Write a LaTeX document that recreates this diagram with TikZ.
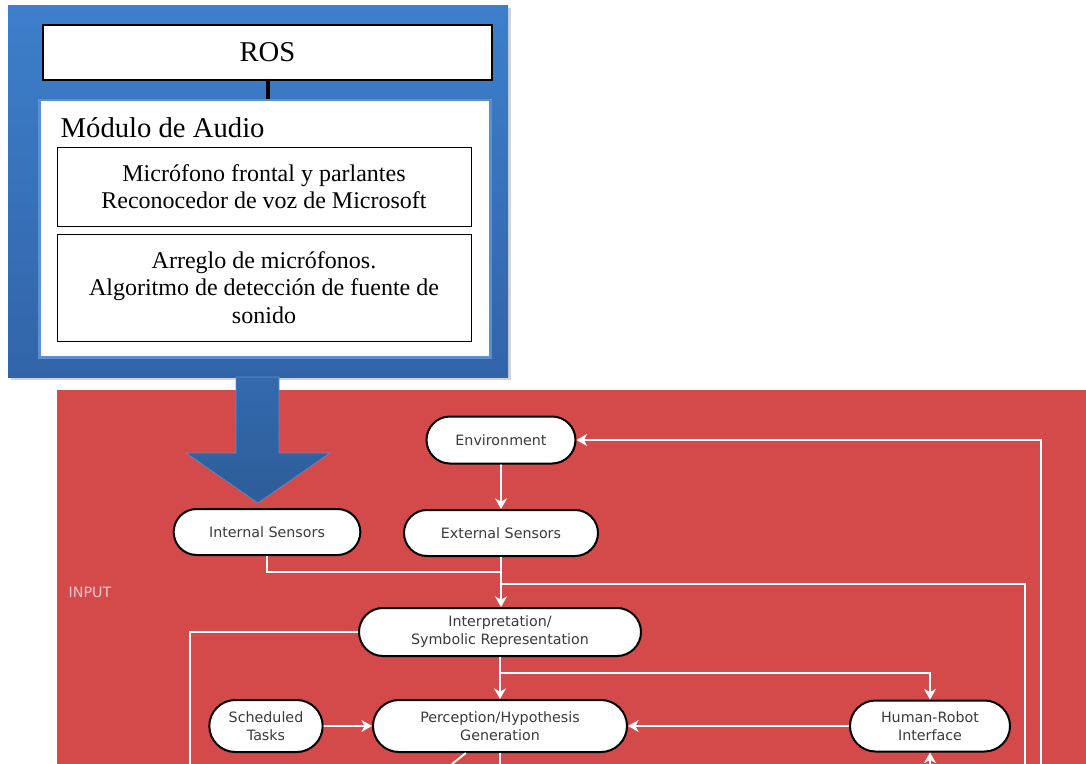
\documentclass[tikz,border=0pt]{standalone}
\usepackage{fontspec}
\setmainfont{Liberation Serif}
\newfontfamily\vera{DejaVu Sans}
\usetikzlibrary{arrows.meta,shapes.misc,shadows}
\definecolor{panelred}{HTML}{D44A4A}
\definecolor{frametop}{HTML}{3D7FCB}
\definecolor{framebot}{HTML}{3264A8}
\definecolor{rimblue}{HTML}{5A8FD2}
\definecolor{arrowtop}{HTML}{3569AD}
\definecolor{arrowbot}{HTML}{2D5C99}
\definecolor{inkgray}{HTML}{3A3A3A}
\definecolor{pinktext}{HTML}{F5C6C6}

\begin{document}
\begin{tikzpicture}[x=0.75pt,y=-0.75pt,>={Stealth[length=8pt,width=9pt,inset=2.5pt]},
  pill/.style={rounded rectangle,draw=black,line width=1.5pt,fill=white,text=inkgray,
    font=\vera\fontsize{10.7}{13.5}\selectfont,align=center,inner sep=0pt},
  flow/.style={draw=white,line width=1.4pt},
  txtbox/.style={draw=black,line width=0.6pt,fill=white,align=center,inner sep=0pt,
    font=\fontsize{18}{20.5}\selectfont}]
 \useasboundingbox (0,0) rectangle (1086,764);
 % audio module (ROS)
 \path[top color=frametop,bottom color=framebot,drop shadow={opacity=.35,shadow xshift=2pt,shadow yshift=-2pt}]
   (8,5) rectangle (508,377);
 \node[draw=black,line width=2.2pt,fill=white,minimum width=336.75pt,minimum height=41.25pt,
   font=\fontsize{21.5}{24}\selectfont] (ros) at (267.5,52.5) {ROS};
 \node[draw=rimblue,line width=2pt,fill=white,minimum width=338pt,minimum height=193pt] (panel) at (265,228.5) {};
 \draw[black,line width=3pt] (ros.south) -- (ros.south |- panel.north);
 \node[anchor=base west,font=\fontsize{21.5}{24}\selectfont] (title) at (56,137) {Módulo de Audio};
 \node[txtbox,minimum width=310.5pt,minimum height=59.25pt] (mic) at (264,186.5)
   {Micrófono frontal y parlantes\\Reconocedor de voz de Microsoft};
 \node[txtbox,minimum width=310.5pt,minimum height=80.25pt] (arr) at (264,287.5)
   {Arreglo de micrófonos.\\Algoritmo de detección de fuente de\\sonido};
 % architecture
 \fill[panelred] (57,390) rectangle (1086,764);
 \node[font=\vera\fontsize{10.7}{13}\selectfont,text=pinktext] (input) at (90,592) {INPUT};
 \node[pill,minimum width=111.75pt,minimum height=35.25pt] (env) at (501,440) {Environment};
 \node[pill,minimum width=140pt,minimum height=34.5pt] (int) at (267,532) {Internal Sensors};
 \node[pill,minimum width=145.5pt,minimum height=34.5pt] (ext) at (501,533) {External Sensors};
 \node[pill,minimum width=211.5pt,minimum height=36pt] (interp) at (500,632) {Interpretation/\\Symbolic Representation};
 \node[pill,minimum width=85pt,minimum height=39pt] (sched) at (266,726) {Scheduled\\Tasks};
 \node[pill,minimum width=190.5pt,minimum height=39pt] (perc) at (500,726) {Perception/Hypothesis\\Generation};
 \node[pill,minimum width=120pt,minimum height=38.25pt] (hri) at (930,726) {Human-Robot\\Interface};
 \coordinate (rt1) at (1041,764);
 \coordinate (rt2) at (1025,764);
 \coordinate (j1) at (501,572);
 \coordinate (j2) at (501,584);
 \coordinate (j3) at (500,673);
 \coordinate (lf) at (190,764);
 \coordinate (bt1) at (500,764);
 \coordinate (bt2) at (452,764);
 \coordinate (bt3) at (930,764);
 \draw[flow,->] (rt1) |- (env.east);
 \draw[flow,->] (env) -- (ext);
 \draw[flow] (int.south) |- (j1);
 \draw[flow,->] (ext.south) -- (ext.south |- interp.north);
 \draw[flow] (j2) -| (rt2);
 \draw[flow] (interp.west) -| (lf);
 \draw[flow,->] (interp) -- (perc);
 \draw[flow,->] (j3) -| (hri.north);
 \draw[flow,->] (hri) -- (perc);
 \draw[flow,->] (sched) -- (perc);
 \draw[flow] (perc.south) -- (bt1);
 \draw[flow] (bt2) -- (perc);
 \draw[flow,->] (bt3) -- (hri.south);
 % big arrow
 \path[top color=arrowtop,bottom color=arrowbot,draw=rimblue,line width=0.5pt]
   (236,377) -- (279,377) -- (279,453) -- (330,453) -- (258,503) -- (186,453) -- (236,453) -- cycle;
\end{tikzpicture}
\end{document}
